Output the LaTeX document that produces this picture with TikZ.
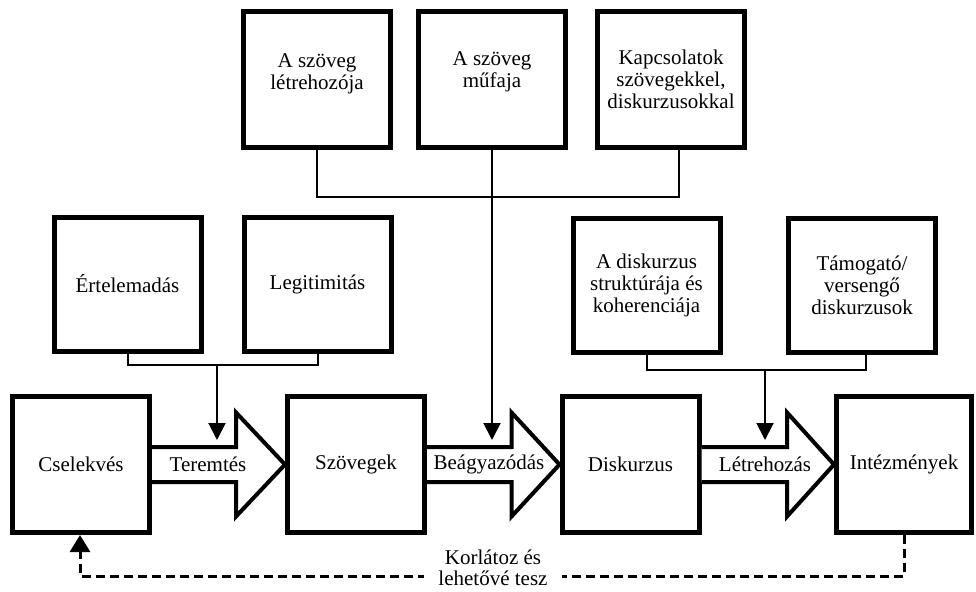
\documentclass[tikz,border=0pt]{standalone}
\usepackage{fontspec}
\setmainfont{Liberation Serif}
\usetikzlibrary{calc,arrows.meta}
\begin{document}
\begin{tikzpicture}[x=1pt,y=-1pt,
  txt/.style={align=center, font=\fontsize{21}{22}\selectfont, inner sep=0pt},
  bigbox/.style={draw, line width=5pt, minimum width=137pt, minimum height=136pt, inner sep=0pt, txt},
  smallbox/.style={draw, line width=5pt, minimum width=147pt, minimum height=134pt, inner sep=0pt, txt},
  blockarrow/.style={draw, line width=4pt, line join=miter, fill=white},
  conn/.style={draw, line width=2pt},
  connarrow/.style={draw, line width=2pt, -{Triangle[width=17pt,length=17pt]}},
  feedback/.style={draw, line width=3pt, dash pattern=on 9pt off 5pt, -{Triangle[width=20pt,length=17pt]}}
]
\useasboundingbox (0,0) rectangle (976,591);

% bottom row
\node[bigbox] (cs) at (81,464.5) {Cselekvés};
\node[bigbox] (sz) at (356,464.5) {Szövegek};
\node[bigbox] (di) at (630.5,464.5) {Diskurzus};
\node[bigbox, minimum width=135pt] (in) at (904,464.5) {Intézmények};

% middle row
\node[smallbox] (er) at (127.5,284) {Értelemadás};
\node[smallbox] (le) at (317.5,284) {Legitimitás};
\node[smallbox] (ds) at (646.5,285.5) {A diskurzus\\struktúrája és\\koherenciája};
\node[smallbox] (tm) at (862,285.5) {Támogató/\\versengő\\diskurzusok};

% top row
\node[smallbox, minimum height=136pt] (lh) at (316.5,79.5) {};
\node[txt] (lht) at (317,74) {A szöveg\\létrehozója};
\node[smallbox, minimum height=136pt] (mf) at (492,79.5) {};
\node[txt] (mft) at (492,72) {A szöveg\\műfaja};
\node[smallbox, minimum height=136pt] (kp) at (671,79.5) {Kapcsolatok\\szövegekkel,\\diskurzusokkal};

% block arrows
\draw[blockarrow] ($(cs.east)+(0,-17.5)$) -- ($(sz.west)+(-49,-17.5)$) -- ($(sz.west)+(-49,-52)$) -- (sz.west)
  -- ($(sz.west)+(-49,52)$) -- ($(sz.west)+(-49,17.5)$) -- ($(cs.east)+(0,17.5)$);
\draw[blockarrow] ($(sz.east)+(0,-17.5)$) -- ($(di.west)+(-48,-17.5)$) -- ($(di.west)+(-48,-52)$) -- (di.west)
  -- ($(di.west)+(-48,52)$) -- ($(di.west)+(-48,17.5)$) -- ($(sz.east)+(0,17.5)$);
\draw[blockarrow] ($(di.east)+(0,-17.5)$) -- ($(in.west)+(-47,-17.5)$) -- ($(in.west)+(-47,-52)$) -- (in.west)
  -- ($(in.west)+(-47,52)$) -- ($(in.west)+(-47,17.5)$) -- ($(di.east)+(0,17.5)$);

\node[txt] (a1) at (208,464) {Teremtés};
\node[txt] (a2) at (489,464) {Beágyazódás};
\node[txt] (a3) at (765,464) {Létrehozás};

% connectors
\coordinate (j1) at (217,365);
\coordinate (t1) at (217,440);
\draw[conn] (er.south) |- (j1) -| (le.south);
\draw[connarrow] (j1) -- (t1);

\coordinate (j2) at (492,197);
\coordinate (t2) at (492,440);
\draw[conn] (lh.south) |- (j2) -| ($(kp.south)+(8,0)$);
\draw[conn] (mf.south) -- (j2);
\draw[connarrow] (j2) -- (t2);

\coordinate (j3) at (765,370);
\coordinate (t3) at (765,440);
\draw[conn] (ds.south) |- (j3) -| ($(tm.south)+(4,0)$);
\draw[connarrow] (j3) -- (t3);

% feedback loop
\draw[feedback] (in.south) -- ++(0,41) -| ($(cs.south)+(-1,0)$);
\node[txt, font=\fontsize{21}{21}\selectfont, fill=white, inner xsep=14pt, inner ysep=2pt] (kl) at (493,567.5) {Korlátoz és\\lehetővé tesz};
\end{tikzpicture}
\end{document}
